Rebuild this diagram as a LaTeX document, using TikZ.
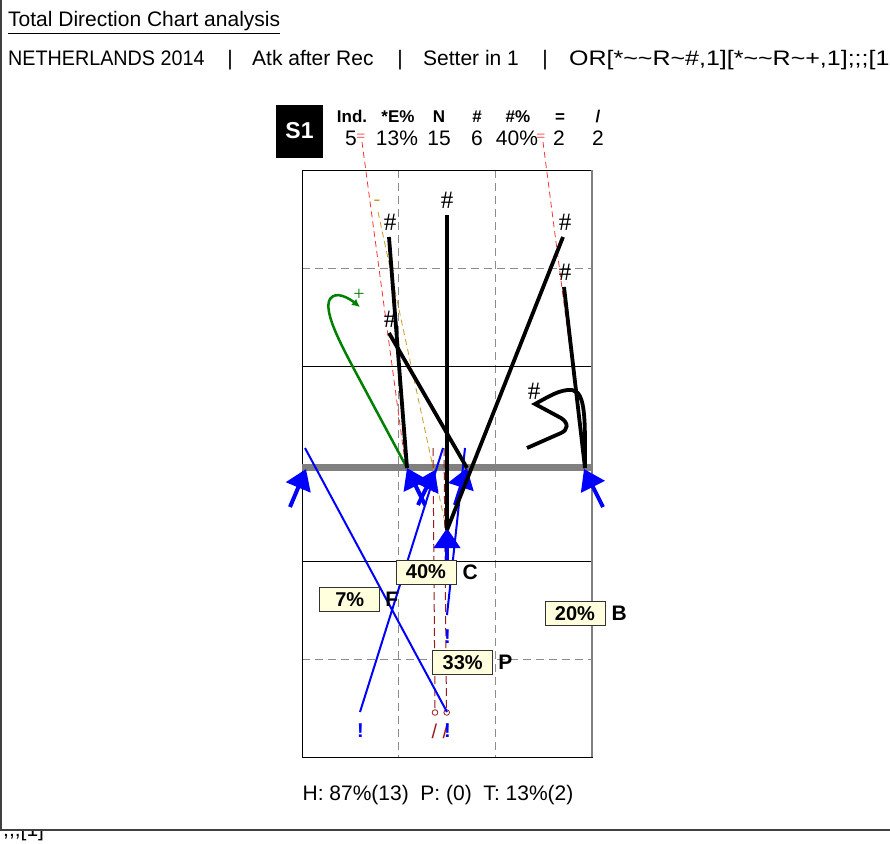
\documentclass[tikz,border=0pt]{standalone}
\usepackage{fontspec}
\setmainfont{Liberation Sans}
\newfontfamily\marksfont{Liberation Serif}
\usetikzlibrary{arrows.meta,positioning}

\newcommand\fsz[1]{\fontsize{#1}{#1}\selectfont}

\definecolor{recblue}{RGB}{0,0,255}
\definecolor{netgrey}{RGB}{128,128,128}
\definecolor{zonegrey}{RGB}{140,140,140}
\definecolor{errred}{RGB}{255,50,50}
\definecolor{blockbrown}{RGB}{150,30,30}
\definecolor{faultgold}{RGB}{205,155,30}
\definecolor{posgreen}{RGB}{0,128,0}
\definecolor{pctyellow}{RGB}{255,255,222}

\tikzset{
  courtline/.style={line width=1pt},
  zoneline/.style={zonegrey, line width=1pt, dash pattern=on 8pt off 5pt},
  netline/.style={netgrey, line width=7pt},
  killline/.style={line width=3.8pt},
  errline/.style={errred, line width=0.8pt, dash pattern=on 6pt off 4pt},
  faultline/.style={faultgold, line width=0.8pt, dash pattern=on 6pt off 4pt},
  blockline/.style={blockbrown, line width=1pt, dash pattern=on 8pt off 4pt},
  passline/.style={recblue, line width=2pt},
  startarrow/.style={recblue, line width=4pt, -{Triangle[length=20pt,width=26pt]}},
  goodline/.style={posgreen, line width=2.5pt, -{Latex[length=8pt,width=8pt]}},
  evalmark/.style={font=\marksfont\fsz{25}, inner sep=0pt},
  pctbox/.style={draw=black!80, fill=pctyellow, line width=1pt, minimum width=60pt, minimum height=24pt, inner sep=0pt, font=\bfseries\fsz{20}},
  zonetag/.style={font=\bfseries\fsz{21}, inner sep=0pt},
  headcell/.style={font=\bfseries\fsz{17}, anchor=base, inner sep=0pt},
  valcell/.style={font=\fsz{21}, anchor=base, inner sep=0pt},
  toptext/.style={font=\fsz{21}, anchor=base west, inner sep=0pt},
}

\begin{document}
\begin{tikzpicture}[x=1pt,y=-1pt]
    \useasboundingbox (0,0) rectangle (890,843);
    \fill[white] (0,0) rectangle (890,843);

    % header
    \node[toptext] (title) at (8,27) {\underline{Total Direction Chart analysis}};
    \node[toptext] (team) at (8,66) {\scalebox{0.94}[1]{NETHERLANDS 2014}};
    \node[toptext, anchor=base] (sep1) at (230,66) {|};
    \node[toptext] (phase) at (252,66) {Atk after Rec};
    \node[toptext, anchor=base] (sep2) at (400,66) {|};
    \node[toptext] (rot) at (423,66) {Setter in 1};
    \node[toptext, anchor=base] (sep3) at (545,66) {|};
    \node[toptext] (filter) at (569,66) {\scalebox{1.19}[1]{OR[*\textasciitilde\textasciitilde R\textasciitilde\#,1][*\textasciitilde\textasciitilde R\textasciitilde+,1];;;[1}};

    % rotation and stats
    \node[fill=black, text=white, font=\bfseries\fsz{23}, minimum width=47pt, minimum height=53pt, inner sep=0pt] (s1) at (299.5,131) {S1};
    \node[headcell] (hInd) at (352,122) {Ind.};
    \node[headcell] (hErr) at (398,122) {*E\%};
    \node[headcell] (hN) at (439,122) {N};
    \node[headcell] (hKill) at (477,122) {\#};
    \node[headcell] (hKillp) at (518,122) {\#\%};
    \node[headcell] (hEq) at (560,122) {=};
    \node[headcell] (hSl) at (598,122) {/};
    \node[valcell] (vInd) at (351,145) {5};
    \node[valcell] (vErr) at (397,145) {13\%};
    \node[valcell] (vN) at (439,145) {15};
    \node[valcell] (vKill) at (477,145) {6};
    \node[valcell] (vKillp) at (517,145) {40\%};
    \node[valcell] (vEq) at (559,145) {2};
    \node[valcell] (vSl) at (598,145) {2};

    % court
    \draw[zoneline] (398,170) -- (398,757);
    \draw[zoneline] (495,170) -- (495,757);
    \draw[zoneline] (302,268) -- (592,268);
    \draw[zoneline] (302,659) -- (592,659);
    \draw[courtline] (302,366) -- (592,366);
    \draw[courtline] (302,561) -- (592,561);
    \draw[courtline] (302,170) rectangle (592,757);
    \draw[netgrey, line width=1.5pt] (592,170) -- (592,757);
    \draw[netline] (302,467) -- (592,467);

    % net crossings
    \coordinate (n1) at (407,468);
    \coordinate (n2) at (447,530);
    \coordinate (n3) at (467,468);
    \coordinate (n4) at (585,468);

    % errors, faults, blocked
    \draw[errline] (362,142) -- (405,462);
    \draw[errline] (543,142) -- (583,450);
    \draw[faultline] (378,212) -- (445,523);
    \draw[blockline] (433,448) -- (435,709);
    \draw[blockline] (444,448) -- (446.5,709);
    \draw[blockbrown, line width=0.8pt] (435,712.5) circle (2.8);
    \draw[blockbrown, line width=0.8pt] (446.7,712.5) circle (2.8);

    % sets
    \draw[passline] (360,712) -- (443,448);
    \draw[passline] (447,712) -- (305,448);
    \draw[passline] (447,615) -- (465,448);
    \draw[startarrow] (290,507) -- (306,469);
    \draw[startarrow] (425,505) -- (n1);
    \draw[startarrow] (418,505) -- (435,470);
    \draw[startarrow] (455,505) -- (n3);
    \draw[startarrow] (447,562) -- (447,528);
    \draw[startarrow] (603,507) -- (584,469);

    % attacks
    \draw[goodline] (n1) -- (362,384) .. controls (345,352) and (322,312) .. (330,299) .. controls (336,290) and (350,299) .. (360,307);
    \draw[killline] (n1) -- (389,237);
    \draw[killline] (n2) -- (447,215);
    \draw[killline] (n3) -- (389,333);
    \draw[killline] (n2) -- (563,237);
    \draw[killline] (n4) -- (564,287);
    \draw[killline] (n4) .. controls (585,420) and (586,392) .. (572,390) .. controls (560,389) and (548,397) .. (535,404) -- (561,418) .. controls (569,423) and (568,430) .. (561,433) -- (527,448);

    % evaluation marks
    \node[evalmark] (k1) at (390,222) {\#};
    \node[evalmark] (k2) at (447,200) {\#};
    \node[evalmark] (k3) at (390,319) {\#};
    \node[evalmark] (k4) at (565,222) {\#};
    \node[evalmark] (k5) at (565,272) {\#};
    \node[evalmark] (k6) at (534,391) {\#};
    \node[evalmark, text=posgreen, font=\marksfont\fsz{20}] (plus) at (359,295) {+};
    \node[evalmark, text=faultgold, font=\marksfont\fsz{20}] (minus) at (377,203) {-};
    \node[evalmark, text=errred, font=\marksfont\fsz{16}] (eq1) at (361,138) {=};
    \node[evalmark, text=errred, font=\marksfont\fsz{16}] (eq2) at (541,138) {=};
    \node[evalmark, text=blockbrown, font=\fsz{20}] (bl1) at (434.5,731) {/};
    \node[evalmark, text=blockbrown, font=\fsz{20}] (bl2) at (445.5,731) {/};
    \node[evalmark, text=recblue, font=\bfseries\fsz{20}] (ex1) at (360.5,731) {!};
    \node[evalmark, text=recblue, font=\bfseries\fsz{20}] (ex2) at (447.5,731) {!};
    \node[evalmark, text=recblue, font=\bfseries\fsz{20}] (ex3) at (447.5,637) {!};

    % zone percentages
    \node[pctbox] (pC) at (426,572) {40\%};
    \node[zonetag, right=6pt of pC] (zC) {C};
    \node[pctbox] (pF) at (349.7,599.7) {7\%};
    \node[zonetag, right=5pt of pF] (zF) {F};
    \node[pctbox] (pB) at (575,613.7) {20\%};
    \node[zonetag, right=6pt of pB] (zB) {B};
    \node[pctbox] (pP) at (462.7,662.7) {33\%};
    \node[zonetag, right=5pt of pP] (zP) {P};

    % totals
    \node[font=\fsz{21}] (totals) at (438,795) {H: 87\%(13)\ \ P: (0)\ \ T: 13\%(2)};

    % frame
    \draw[black!75, line width=1.5pt] (1,0) -- (1,830) -- (890,830);
    \begin{scope}
        \clip (0,831) rectangle (890,843);
        \node[toptext] (wrap) at (3,836) {;;;[1]};
    \end{scope}
\end{tikzpicture}
\end{document}
